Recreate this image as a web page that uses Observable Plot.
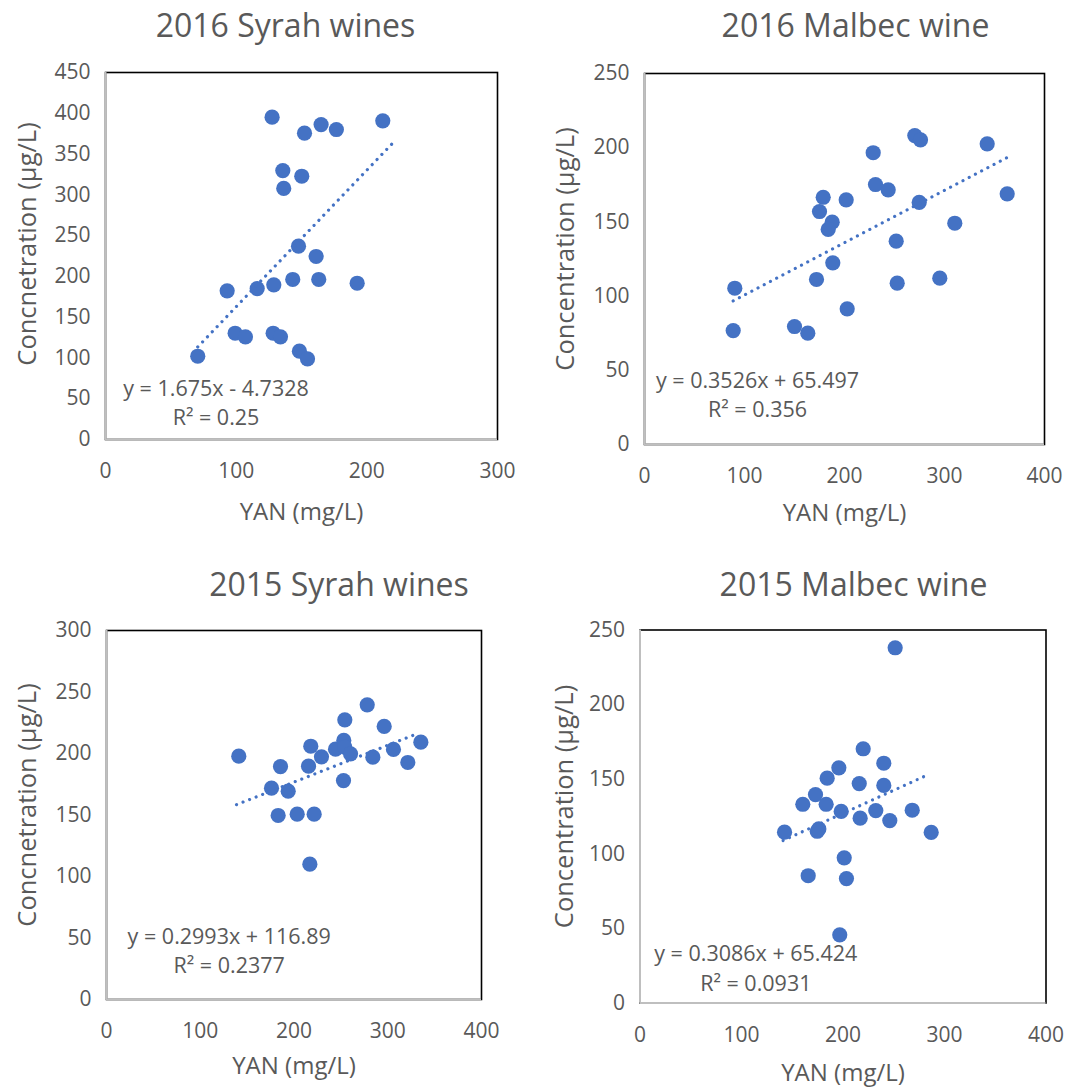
<!DOCTYPE html>
<html><head><meta charset="utf-8">
<script src="https://cdn.jsdelivr.net/npm/d3@7"></script>
<script src="https://cdn.jsdelivr.net/npm/@observablehq/plot@0.6"></script>
<style>
body{margin:0;background:#fff;}
#wrap{position:relative;width:1067px;height:1088px;background:#fff;}
.panel{position:absolute;}
</style></head><body><div id="wrap"></div>
<script>
// ---- 2016 Syrah wines ----
const syrah2016Yan  = [127.5,152.3,165.0,176.7,212.2,135.7,150.2,136.4,147.7,161.2,93.1,116.1,128.8,143.3,163.2,192.6,99.2,107.1,128.3,133.9,148.4,154.6,70.6];
const syrah2016Conc = [395.2,375.6,386.2,380.1,390.8,329.8,322.8,307.8,237.0,224.4,182.3,185.1,189.7,196.2,196.2,191.6,130.3,125.9,130.3,125.9,108.3,98.9,102.1];
// ---- 2016 Malbec wine ----
const malbec2016Yan  = [90.3,88.7,150,163.3,202.7,172,188.3,175,178.7,187.7,183.7,201.7,228.7,231,243.7,251.7,252.7,270.3,276,274.7,295.3,310.3,342.7,362.7];
const malbec2016Conc = [105.3,76.8,79.5,75.0,91.4,111.2,122.4,157.0,166.6,149.8,144.9,164.9,196.6,175.2,171.6,137.0,108.7,208.2,205.3,163.1,112.1,149.1,202.6,168.9];
// ---- 2015 Syrah wines ----
const syrah2015Yan  = [141.1,185.6,176,193.8,183.1,203.4,221.5,216.9,217.9,215.5,229.3,244.3,253.1,254.2,260.3,254.2,252.8,278.1,284.1,296.2,306.1,321.4,335.3];
const syrah2015Conc = [197.8,189.4,171.8,169.4,149.6,150.7,150.7,110.0,205.9,189.7,197.3,203.5,210.6,205.1,199.7,227.4,178.0,239.6,197.0,222.0,203.3,192.7,209.2];
// ---- 2015 Malbec wine ----
const malbec2015Yan  = [251.4,219.9,240.2,195.9,184.4,216,240.2,172.9,160.4,183.4,198.2,232.3,268.2,216.9,246.1,142.4,174.6,176.2,286.9,201.2,165.7,203.4,196.8];
const malbec2015Conc = [238.1,170.4,160.7,157.6,150.7,147.1,145.8,139.7,133.2,133.2,128.4,129.0,129.2,123.9,122.3,114.5,115.1,116.7,114.3,97.3,85.3,83.4,45.7];

// Trendline equations shown on the chart
const titles    = ["2016 Syrah wines", "2016 Malbec wine", "2015 Syrah wines", "2015 Malbec wine"];
const yLabels   = ["Concnetration (µg/L)", "Concentration (µg/L)", "Concnetration (µg/L)", "Concentration (µg/L)"];
const xLabel    = "YAN (mg/L)";
const slopes     = [1.675, 0.3526, 0.2993, 0.3086];
const intercepts = [-4.7328, 65.497, 116.89, 65.424];
const trendFrom  = [70.6, 88.7, 138.7, 141];
const trendTo    = [222, 362.7, 333, 282];
const eqTexts = ["y = 1.675x - 4.7328", "y = 0.3526x + 65.497", "y = 0.2993x + 116.89", "y = 0.3086x + 65.424"];
const r2Texts = ["R² = 0.25", "R² = 0.356", "R² = 0.2377", "R² = 0.0931"];
const xTicks = [[0,100,200,300],[0,100,200,300,400],[0,100,200,300,400],[0,100,200,300,400]];
const yTicks = [[0,50,100,150,200,250,300,350,400,450],[0,50,100,150,200,250],[0,50,100,150,200,250,300],[0,50,100,150,200,250]];

const xs = [syrah2016Yan, malbec2016Yan, syrah2015Yan, malbec2015Yan];
const ys = [syrah2016Conc, malbec2016Conc, syrah2015Conc, malbec2015Conc];

// layout (pixels)
const layout = [
  {left:0,   top:0,   width:533, height:544, ml:105,   mr:36,   mt:72,   mb:105,  tDx:-16, tDy:-36,  xlDy:80,  ylDx:-78, ylDy:-12, eqDx:110.5, eq1:-44,  eq2:-15},
  {left:533, top:0,   width:534, height:544, ml:111,   mr:23,   mt:73,   mb:100,  tDx:11,  tDy:-37,  xlDy:76,  ylDx:-79, ylDy:-10, eqDx:113,   eq1:-57,  eq2:-28},
  {left:0,   top:544, width:533, height:544, ml:106,   mr:52,   mt:86,   mb:89,   tDx:45,  tDy:-35,  xlDy:74,  ylDx:-79, ylDy:-10, eqDx:122.7, eq1:-56,  eq2:-26.5},
  {left:533, top:544, width:534, height:544, ml:106.5, mr:21.5, mt:85.5, mb:85.5, tDx:10.5,tDy:-34.5,xlDy:77.5,ylDx:-75, ylDy:-10, eqDx:115.8, eq1:-42,  eq2:-12.5}
];

const BLUE = "#4472C4", GRAY = "#595959";
const wrap = document.getElementById("wrap");

titles.forEach((title, i) => {
  const L = layout[i];
  const pts = xs[i].map((x, k) => ({x, y: ys[i][k]}));
  const trend = [trendFrom[i], trendTo[i]].map(x => ({x, y: slopes[i] * x + intercepts[i]}));
  const xt = xTicks[i], yt = yTicks[i];
  const svg = Plot.plot({
    width: L.width, height: L.height,
    marginLeft: L.ml, marginRight: L.mr, marginTop: L.mt, marginBottom: L.mb,
    x: {domain: [xt[0], xt[xt.length - 1]], axis: null},
    y: {domain: [yt[0], yt[yt.length - 1]], axis: null},
    style: {fontFamily: "'Open Sans', sans-serif", fontSize: "21px", color: GRAY, background: "white", overflow: "visible"},
    marks: [
      Plot.frame({stroke: "#000", strokeWidth: 1.6}),
      Plot.ruleX([xt[0]], {stroke: "#BFBFBF", strokeWidth: 2}),
      Plot.ruleY([yt[0]], {stroke: "#BFBFBF", strokeWidth: 2}),
      Plot.axisX(xt, {tickSize: 0, tickPadding: 24, label: null, fill: GRAY, fontSize: 21}),
      Plot.axisY(yt, {tickSize: 0, tickPadding: 15, label: null, fill: GRAY, fontSize: 21}),
      Plot.dot(pts, {x: "x", y: "y", r: 7.6, fill: BLUE}),
      Plot.line(trend, {x: "x", y: "y", stroke: BLUE, strokeWidth: 3.2, strokeDasharray: "0.01 7", strokeLinecap: "round"}),
      Plot.text([title], {text: d => d, frameAnchor: "top", dx: L.tDx, dy: L.tDy, lineAnchor: "bottom", fontSize: 32, fill: GRAY}),
      Plot.text([xLabel], {text: d => d, frameAnchor: "bottom", dy: L.xlDy, lineAnchor: "bottom", fontSize: 24, fill: GRAY}),
      Plot.text([yLabels[i]], {text: d => d, frameAnchor: "left", dx: L.ylDx, dy: L.ylDy, rotate: -90, textAnchor: "middle", lineAnchor: "middle", fontSize: 25.5, fill: GRAY}),
      Plot.text([eqTexts[i]], {text: d => d, frameAnchor: "bottom-left", dx: L.eqDx, dy: L.eq1, textAnchor: "middle", lineAnchor: "bottom", fontSize: 21.5, fill: GRAY}),
      Plot.text([r2Texts[i]], {text: d => d, frameAnchor: "bottom-left", dx: L.eqDx, dy: L.eq2, textAnchor: "middle", lineAnchor: "bottom", fontSize: 21.5, fill: GRAY})
    ]
  });
  const div = document.createElement("div");
  div.className = "panel";
  div.style.left = L.left + "px";
  div.style.top = L.top + "px";
  div.appendChild(svg);
  wrap.appendChild(div);
});
</script>
</body></html>
